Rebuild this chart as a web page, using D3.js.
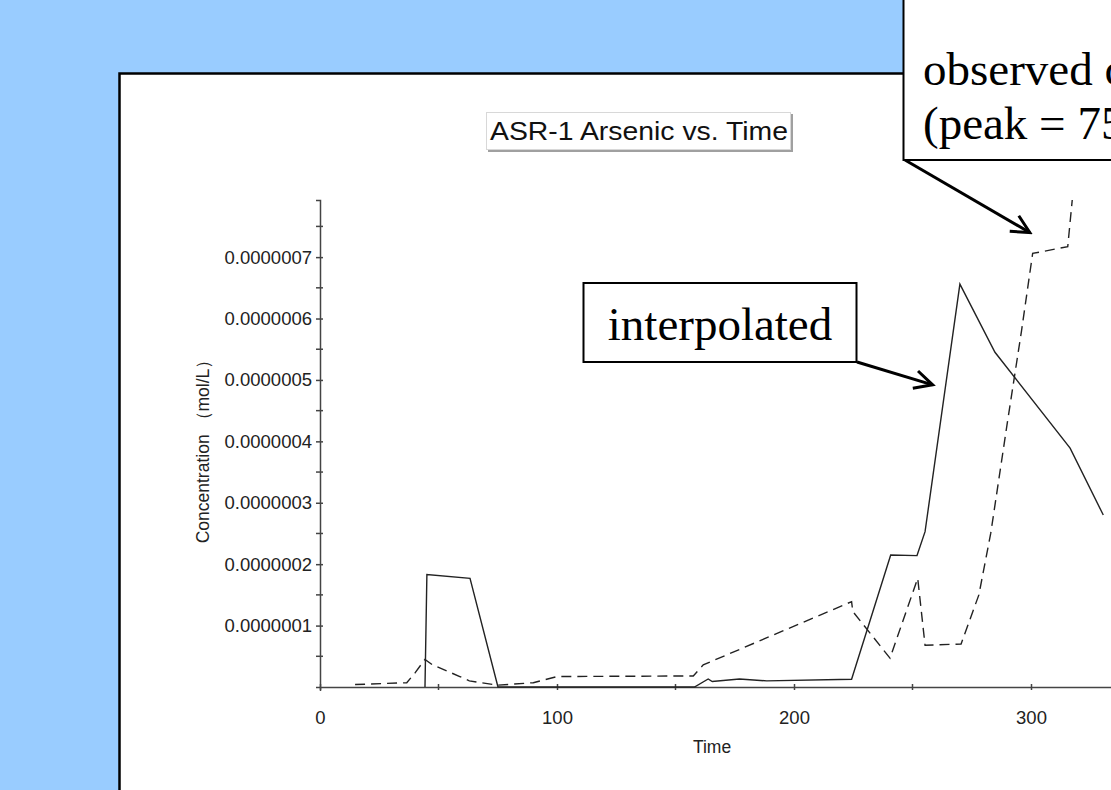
<!DOCTYPE html>
<html>
<head>
<meta charset="utf-8">
<script src="https://cdn.jsdelivr.net/npm/d3@7.9.0/dist/d3.min.js"></script>
<style>
  body { margin: 0; background: #99ccff; overflow: hidden; }
  svg { display: block; }
  .tick text { font-family: "Liberation Sans", Arial, sans-serif; fill: #222; }
</style>
</head>
<body>
<svg id="chart" width="1111" height="790"></svg>
<script>
// values (time, mol/L)
const interpTime = [44.3, 45.1, 63.3, 75.1, 158, 163.8, 165.5, 177, 188.5, 224.3, 240.8, 251.9, 255.3, 270, 284.8, 316.5, 330.5];
const interpConc = [0, 1.83e-7, 1.77e-7, 0, 0, 0.13e-7, 0.09e-7, 0.13e-7, 0.10e-7, 0.125e-7, 2.15e-7, 2.14e-7, 2.53e-7, 6.56e-7, 5.45e-7, 3.89e-7, 2.8e-7];

const obsTime = [14.8, 36.6, 40.1, 44.3, 47.5, 59, 63, 75, 90, 100, 157.5, 161.7, 224.3, 224.8, 240.5, 252.2, 255.3, 270.5, 278, 283, 290, 296, 300.7, 315.5, 317.4];
const obsConc = [0.04e-7, 0.07e-7, 0.23e-7, 0.45e-7, 0.36e-7, 0.17e-7, 0.1e-7, 0.03e-7, 0.07e-7, 0.17e-7, 0.18e-7, 0.36e-7, 1.39e-7, 1.23e-7, 0.47e-7, 1.77e-7, 0.68e-7, 0.7e-7, 1.5e-7, 2.5e-7, 4.3e-7, 5.8e-7, 7.06e-7, 7.17e-7, 7.93e-7];

const xMajor = [0, 100, 200, 300];
const xMinor = [50, 150, 250];
const yMajor = [1e-7, 2e-7, 3e-7, 4e-7, 5e-7, 6e-7, 7e-7];
const yMinor = [0.5e-7, 1.5e-7, 2.5e-7, 3.5e-7, 4.5e-7, 5.5e-7, 6.5e-7, 7.5e-7];

const chartTitle = "ASR-1 Arsenic vs. Time";
const xTitle = "Time";
const yTitle = "Concentration （mol/L）";

const svg = d3.select('#chart');

// white slide panel
svg.append('rect')
  .attr('x', 119.5).attr('y', 73.5)
  .attr('width', 1100).attr('height', 800)
  .attr('fill', '#fff').attr('stroke', '#000').attr('stroke-width', 2.5);

// scales
const x = d3.scaleLinear().domain([0, 350]).range([320, 1149.5]);
const y = d3.scaleLinear().domain([0, 7.93e-7]).range([687, 200]);

const sans = '"Liberation Sans", Arial, sans-serif';
const serif = '"Liberation Serif", "Times New Roman", serif';

// title box
const tg = svg.append('g');
tg.append('rect').attr('x', 488).attr('y', 114).attr('width', 305).attr('height', 38).attr('fill', '#a0a0a0');
tg.append('rect').attr('x', 486.5).attr('y', 112.5).attr('width', 304).attr('height', 37)
  .attr('fill', '#fff').attr('stroke', '#d8d8d8').attr('stroke-width', 1);
tg.append('text').attr('x', 639).attr('y', 140).attr('text-anchor', 'middle')
  .attr('font-family', sans).attr('font-size', 26).attr('fill', '#111')
  .attr('textLength', 298).attr('lengthAdjust', 'spacingAndGlyphs')
  .text(chartTitle);

// axes
const yAxis = d3.axisLeft(y).tickValues(yMajor).tickFormat(d3.format('.7f')).tickSize(4).tickPadding(4);
const yg = svg.append('g').attr('transform', 'translate(320,0)').call(yAxis);
yg.selectAll('.tick text').attr('font-size', 18.5).attr('font-family', sans);

const xAxis = d3.axisBottom(x).tickValues(xMajor).tickFormat(d3.format('d')).tickSize(4).tickPadding(20);
const xg = svg.append('g').attr('transform', 'translate(0,687)').call(xAxis);
xg.selectAll('.tick text').attr('font-size', 18.5).attr('font-family', sans);

[yg, xg].forEach(g => {
  g.select('.domain').attr('stroke', '#444').attr('stroke-width', 1.5);
  g.selectAll('.tick line').attr('stroke', '#444').attr('stroke-width', 1.5);
});
// ticks cross the axis line a little
yg.selectAll('.tick line').attr('x1', 3);
xg.selectAll('.tick line').attr('y1', -3).attr('y2', 3);

// minor ticks
svg.append('g').selectAll('line').data(yMinor).join('line')
  .attr('x1', 316).attr('x2', 323)
  .attr('y1', d => y(d)).attr('y2', d => y(d))
  .attr('stroke', '#444').attr('stroke-width', 1.5);
svg.append('g').selectAll('line').data(xMinor).join('line')
  .attr('x1', d => x(d)).attr('x2', d => x(d))
  .attr('y1', 684).attr('y2', 690)
  .attr('stroke', '#444').attr('stroke-width', 1.5);

// axis titles
svg.append('text').attr('x', 712).attr('y', 753).attr('text-anchor', 'middle')
  .attr('font-family', sans).attr('font-size', 17.5).attr('fill', '#222').text(xTitle);
svg.append('text').attr('transform', 'translate(209,447) rotate(-90)').attr('text-anchor', 'middle')
  .attr('font-family', sans).attr('font-size', 17.5).attr('fill', '#222').text(yTitle);

// series
const line = d3.line().x(d => x(d[0])).y(d => y(d[1]));
const interp = d3.zip(interpTime, interpConc);
const obs = d3.zip(obsTime, obsConc);

svg.append('path').datum(obs).attr('d', line)
  .attr('fill', 'none').attr('stroke', '#222').attr('stroke-width', 1.4)
  .attr('stroke-dasharray', '10,6');
svg.append('path').datum(interp).attr('d', line)
  .attr('fill', 'none').attr('stroke', '#222').attr('stroke-width', 1.4);

// arrowhead
svg.append('defs').append('marker')
  .attr('id', 'head').attr('markerUnits', 'userSpaceOnUse')
  .attr('viewBox', '0 0 24 24').attr('markerWidth', 24).attr('markerHeight', 24)
  .attr('refX', 21).attr('refY', 12).attr('orient', 'auto')
  .append('path').attr('d', 'M3,3 L21,12 L3,21')
  .attr('fill', 'none').attr('stroke', '#000').attr('stroke-width', 3);

// "interpolated" callout
svg.append('rect').attr('x', 583.5).attr('y', 283).attr('width', 273).attr('height', 79)
  .attr('fill', '#fff').attr('stroke', '#000').attr('stroke-width', 2);
svg.append('text').attr('x', 720).attr('y', 340).attr('text-anchor', 'middle')
  .attr('font-family', serif).attr('font-size', 47).attr('fill', '#000').text('interpolated');
svg.append('line').attr('x1', 857).attr('y1', 362).attr('x2', x(258.5)).attr('y2', y(4.92e-7))
  .attr('stroke', '#000').attr('stroke-width', 3).attr('marker-end', 'url(#head)');

// "observed" callout (cut by the slide edge, as in the original)
svg.append('line').attr('x1', 905).attr('y1', 160).attr('x2', x(299.5)).attr('y2', y(7.4e-7))
  .attr('stroke', '#000').attr('stroke-width', 3).attr('marker-end', 'url(#head)');
svg.append('rect').attr('x', 903.5).attr('y', -3).attr('width', 260).attr('height', 163)
  .attr('fill', '#fff').attr('stroke', '#000').attr('stroke-width', 2);
svg.append('text').attr('x', 923).attr('y', 85)
  .attr('font-family', serif).attr('font-size', 47).attr('fill', '#000').text('observed c');
svg.append('text').attr('x', 923).attr('y', 139)
  .attr('font-family', serif).attr('font-size', 47).attr('fill', '#000').text('(peak = 75');
</script>
</body>
</html>
